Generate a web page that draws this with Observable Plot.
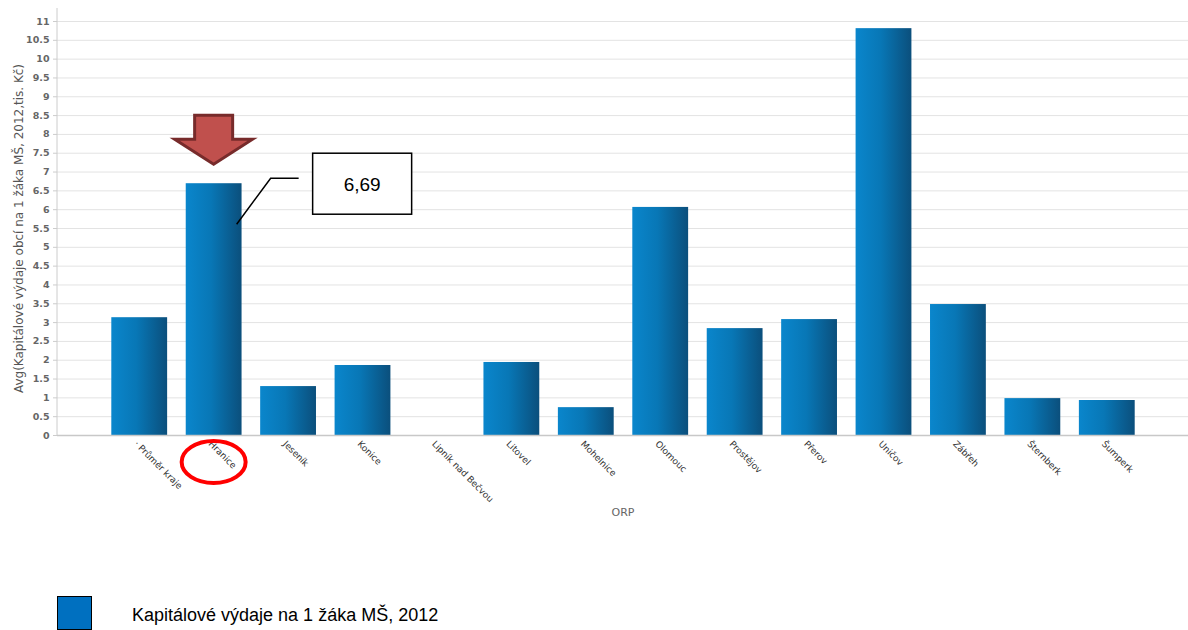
<!DOCTYPE html>
<html><head><meta charset="utf-8">
<script src="https://cdn.jsdelivr.net/npm/d3@7"></script>
<script src="https://cdn.jsdelivr.net/npm/@observablehq/plot@0.6"></script>
<style>
body{margin:0;background:#fff;font-family:"Liberation Sans",Arial,sans-serif;}
#legend{position:relative;height:45px;}
#legend .sw{position:absolute;left:57px;top:11px;width:33px;height:32px;background:#0070c0;border:1.5px solid #000;}
#legend .tx{position:absolute;left:132px;top:20px;font-size:18px;color:#000;}
</style>
</head><body>
<div id="chart"></div>
<div id="legend"><div class="sw"></div><div class="tx">Kapitálové výdaje na 1 žáka MŠ, 2012</div></div>
<script>
const categories = ["· Průměr kraje","Hranice","Jeseník","Konice","Lipník nad Bečvou","Litovel","Mohelnice","Olomouc","Prostějov","Přerov","Uničov","Zábřeh","Šternberk","Šumperk"];
const values = [3.13, 6.69, 1.30, 1.86, 0, 1.94, 0.74, 6.06, 2.84, 3.08, 10.81, 3.48, 0.98, 0.93];
const yTicks = [0,0.5,1,1.5,2,2.5,3,3.5,4,4.5,5,5.5,6,6.5,7,7.5,8,8.5,9,9.5,10,10.5,11];
const yLabel = "Avg(Kapitálové výdaje obcí na 1 žáka MŠ, 2012,tis. Kč)";
const xLabel = "ORP";
const highlight = "Hranice";
const highlightLabel = "6,69";

const data = categories.map((c, i) => ({cat: c, v: values[i]}));

const chart = Plot.plot({
  width: 1188,
  height: 585,
  marginLeft: 57,
  marginRight: 0,
  marginTop: 21,
  marginBottom: 150,
  style: {fontFamily: "DejaVu Sans, sans-serif", background: "#fff"},
  x: {domain: categories, paddingInner: 0.25, paddingOuter: 0.125, insetLeft: 45, insetRight: 44, round: false},
  y: {domain: [0, 11]},
  marks: [
    Plot.gridY(yTicks, {stroke: "#e3e3e3", strokeOpacity: 1}),
    Plot.barY(data, {x: "cat", y: "v", fill: "url(#barGrad)"}),
    Plot.ruleY([0], {stroke: "#c8c8c8", strokeWidth: 1.5}),
    Plot.axisY({ticks: yTicks, tickFormat: d => String(d), tickSize: 4, tickPadding: 4, stroke: "#ccc",
      fill: "#666", fontWeight: "bold", fontSize: 9.5,
      label: yLabel, labelAnchor: "center", labelArrow: "none", labelOffset: 43}),
    Plot.axisX({tickSize: 0, tickRotate: 45, tickPadding: 7, dx: -4, fill: "#333", fontSize: 9,
      label: xLabel, labelAnchor: "center", labelArrow: "none", labelOffset: 80})
  ]
});

const svg = d3.select(chart);
// gradient
const defs = svg.insert("defs", ":first-child");
const g = defs.append("linearGradient").attr("id", "barGrad").attr("x1", "0").attr("x2", "1").attr("y1", "0").attr("y2", "0");
g.append("stop").attr("offset", "0%").attr("stop-color", "#0a86cc");
g.append("stop").attr("offset", "45%").attr("stop-color", "#0877b6");
g.append("stop").attr("offset", "100%").attr("stop-color", "#0b4f7c");

// style axis labels
svg.selectAll("g[aria-label='y-axis label'] text").attr("fill", "#555").attr("font-weight", "normal").attr("font-size", 12);
svg.selectAll("g[aria-label='x-axis label'] text").attr("fill", "#666").attr("font-size", 11);

const xs = chart.scale("x"), ys = chart.scale("y");
// left axis line
svg.append("line").attr("x1", 57).attr("x2", 57).attr("y1", ys.apply(11) - 13).attr("y2", ys.apply(0))
  .attr("stroke", "#ccc").attr("stroke-width", 1);

// annotations anchored on the highlighted bar
const hv = values[categories.indexOf(highlight)];
const cx = xs.apply(highlight) + xs.bandwidth / 2;
const yTop = ys.apply(hv);
const ann = svg.append("g");
// down arrow above bar
const tipY = yTop - 19, headY = tipY - 25, topY = headY - 24;
ann.append("path")
  .attr("d", `M${cx-19},${topY} L${cx+19},${topY} L${cx+19},${headY} L${cx+39},${headY} L${cx},${tipY} L${cx-39},${headY} L${cx-19},${headY} Z`)
  .attr("fill", "#c0504d").attr("stroke", "#772b2b").attr("stroke-width", 3).attr("stroke-linejoin", "miter");
// callout line and box
const bx = cx + 99, by = yTop - 30;
ann.append("path").attr("d", `M${cx+23},${yTop+41} L${cx+57},${yTop-5} L${cx+85},${yTop-5}`)
  .attr("fill", "none").attr("stroke", "#000").attr("stroke-width", 1.5);
ann.append("rect").attr("x", bx).attr("y", by).attr("width", 99).attr("height", 61)
  .attr("fill", "#fff").attr("stroke", "#000").attr("stroke-width", 1.5);
ann.append("text").attr("x", bx + 49.5).attr("y", by + 31).attr("text-anchor", "middle").attr("dominant-baseline", "central")
  .attr("font-family", "Liberation Sans, Arial, sans-serif").attr("font-size", 19).text(highlightLabel);
// red ellipse around tick label
ann.append("ellipse").attr("cx", cx).attr("cy", ys.apply(0) + 27).attr("rx", 32).attr("ry", 21)
  .attr("fill", "none").attr("stroke", "#ff0000").attr("stroke-width", 4);

document.getElementById("chart").appendChild(chart);
</script>
</body></html>
